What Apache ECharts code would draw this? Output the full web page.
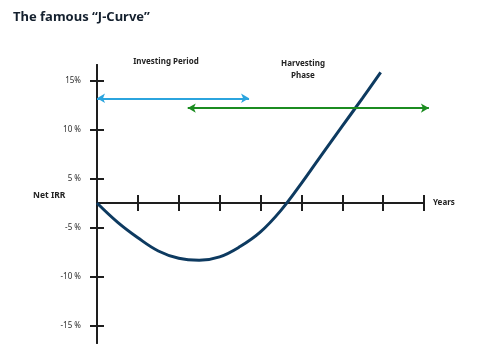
<!DOCTYPE html>
<html>
<head>
<meta charset="utf-8">
<script src="https://cdn.jsdelivr.net/npm/echarts@6.0.0/dist/echarts.min.js"></script>
<style>
html,body{margin:0;padding:0;background:#fff;}
#chart{width:480px;height:355px;}
</style>
</head>
<body>
<div id="chart"></div>
<script>
// Years since fund start (x) and Net IRR in plotted axis units (one unit = one tick step)
const years  = [0, 0.5, 1, 1.5, 2, 2.5, 3, 3.5, 4, 4.5, 5, 5.5, 6, 6.5, 6.94];
const netIrr = [0, -0.39, -0.71, -0.98, -1.13, -1.17, -1.10, -0.89, -0.59, -0.15, 0.40, 0.99, 1.57, 2.15, 2.67];
// Y tick positions (axis units) and their printed labels
const yTickValues = [2.5, 1.5, 0.5, -0.5, -1.5, -2.5];
const yTickLabels = ['15%', '10 %', '5 %', '-5 %', '-10 %', '-15 %'];
// Phase arrows: [startYear, endYear, level]
const investingArrow = [0, 3.72, 2.14];
const harvestingArrow = [2.22, 8.12, 1.94];

const FONT = 'Noto Sans';
const AXIS_COLOR = '#1e1e1e';
const X_MAX = 8, X_MAX_ANN = 8.2, GRID_W = 327;

const chart = echarts.init(document.getElementById('chart'), null, {renderer: 'canvas'});

const baseX = {
  type: 'value', min: 0, max: X_MAX, interval: 1, gridIndex: 0,
  axisLine: {onZero: true, lineStyle: {color: AXIS_COLOR, width: 2}},
  axisTick: {show: true, inside: false, length: 8, lineStyle: {color: AXIS_COLOR, width: 2}},
  splitLine: {show: false},
  axisLabel: {show: false}
};
const baseY = {
  type: 'value', min: -2.86, max: 2.82, gridIndex: 0,
  axisLine: {show: true, onZero: true, lineStyle: {color: AXIS_COLOR, width: 2}},
  axisTick: {show: true, inside: false, length: 7, customValues: yTickValues, lineStyle: {color: AXIS_COLOR, width: 2}},
  splitLine: {show: false},
  axisLabel: {show: false}
};
const hidden = {show: false};

chart.setOption({
  animation: false,
  backgroundColor: '#ffffff',
  title: [
    {text: 'The famous \u201cJ-Curve\u201d', left: 8, top: 6,
     textStyle: {fontFamily: FONT, fontSize: 13, fontWeight: 'bold', color: '#14202e'}},
    {text: 'Investing Period', left: 161, top: 53, textAlign: 'center',
     textStyle: {fontFamily: FONT, fontSize: 8, fontWeight: 'bold', color: '#222'}},
    {text: 'Harvesting\nPhase', left: 298, top: 53, textAlign: 'center',
     textStyle: {fontFamily: FONT, fontSize: 8, fontWeight: 'bold', color: '#222', lineHeight: 12}},
    {text: 'Net IRR', left: 28, top: 186,
     textStyle: {fontFamily: FONT, fontSize: 8.5, fontWeight: 'bold', color: '#222'}}
  ],
  grid: [
    {left: 97, top: 65, width: GRID_W, height: 278, containLabel: false},
    {left: 97, top: 65, width: GRID_W * X_MAX_ANN / X_MAX, height: 278, containLabel: false}
  ],
  xAxis: [
    Object.assign({}, baseX, {position: 'bottom',
      name: 'Years', nameLocation: 'end', nameGap: 9,
      nameTextStyle: {fontFamily: FONT, fontSize: 8, fontWeight: 'bold', color: '#222', verticalAlign: 'middle'}}),
    Object.assign({}, baseX, {position: 'top'}),
    {type: 'value', gridIndex: 1, min: 0, max: X_MAX_ANN, show: false, splitLine: hidden}
  ],
  yAxis: [
    Object.assign({}, baseY, {position: 'left',
      axisLabel: {show: true, customValues: yTickValues, margin: 16,
        fontFamily: FONT, fontSize: 8, color: '#2a2a2a',
        formatter: function (v) { const i = yTickValues.indexOf(v); return i >= 0 ? yTickLabels[i] : ''; }}}),
    Object.assign({}, baseY, {position: 'right'}),
    {type: 'value', gridIndex: 1, min: -2.86, max: 2.82, show: false, splitLine: hidden}
  ],
  series: [
    {
      name: 'J-Curve', type: 'line', xAxisIndex: 0, yAxisIndex: 0,
      data: years.map((x, i) => [x, netIrr[i]]),
      smooth: 0.4, symbol: 'none', clip: false,
      lineStyle: {color: '#0d3a60', width: 3},
      z: 3
    },
    {
      name: 'Phases', type: 'line', xAxisIndex: 2, yAxisIndex: 2, data: [], clip: false,
      markLine: {
        silent: true, symbol: ['arrow', 'arrow'], symbolSize: [7, 8],
        label: {show: false},
        data: [
          [{coord: [investingArrow[0], investingArrow[2]], lineStyle: {color: '#2ba4de', width: 2, type: 'solid'}},
           {coord: [investingArrow[1], investingArrow[2]]}],
          [{coord: [harvestingArrow[0], harvestingArrow[2]], lineStyle: {color: '#1b8c20', width: 2, type: 'solid'}},
           {coord: [harvestingArrow[1], harvestingArrow[2]]}]
        ]
      },
      z: 2
    }
  ]
});
</script>
</body>
</html>
